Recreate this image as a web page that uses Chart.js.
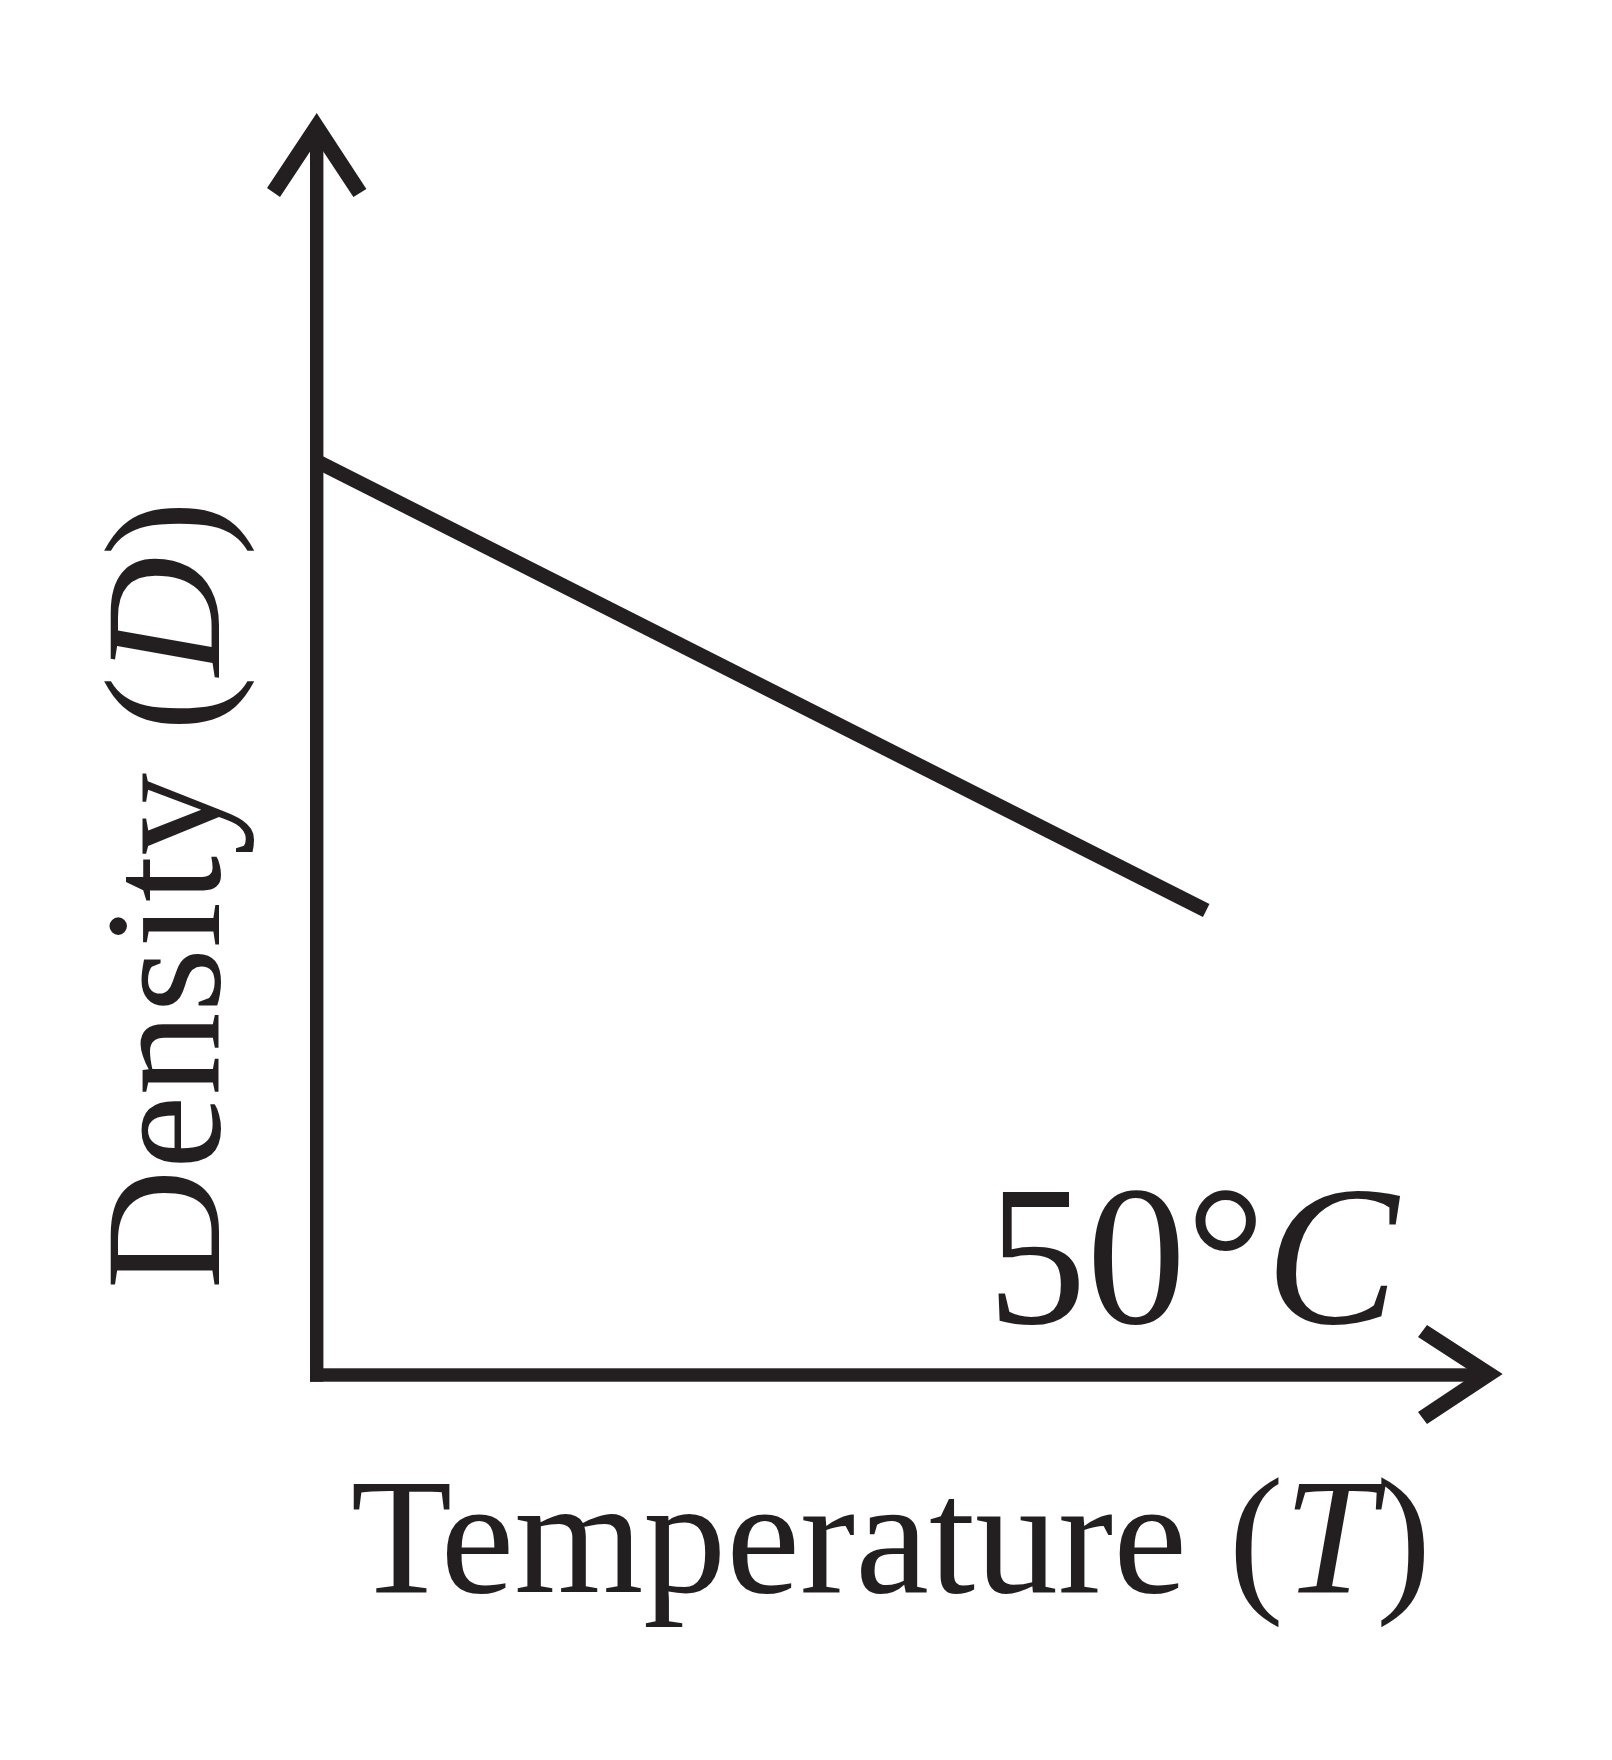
<!DOCTYPE html>
<html>
<head>
<meta charset="utf-8">
<script src="https://cdn.jsdelivr.net/npm/chart.js@4/dist/chart.umd.min.js"></script>
<style>
html,body{margin:0;padding:0;background:#fff;}
#wrap{width:1612px;height:1760px;position:relative;}
</style>
</head>
<body>
<div id="wrap"><canvas id="c" width="1612" height="1760"></canvas></div>
<script>
// Data (arbitrary units: axes span 0..100)
const temperature = [0, 75];
const density = [72.4, 36.8];
const xLabelParts = [["Temperature (", false], ["T", true], [")", false]];
const yLabelParts = [["Density (", false], ["D", true], [")", false]];
const markParts = [["50°", false], ["C", true]];

const INK = '#231f20';
const FONT = '"Liberation Serif", "Times New Roman", serif';

function drawParts(ctx, parts, size, x, y, align) {
  let total = 0;
  const widths = parts.map(([t, it]) => {
    ctx.font = (it ? 'italic ' : '') + size + 'px ' + FONT;
    const w = ctx.measureText(t).width; total += w; return w;
  });
  let cx = align === 'center' ? x - total / 2 : x;
  ctx.textAlign = 'left';
  ctx.textBaseline = 'alphabetic';
  parts.forEach(([t, it], i) => {
    ctx.font = (it ? 'italic ' : '') + size + 'px ' + FONT;
    ctx.fillText(t, cx, y);
    cx += widths[i];
  });
}

const axesPlugin = {
  id: 'axesArrows',
  afterDatasetsDraw(chart) {
    const ctx = chart.ctx;
    const xs = chart.scales.x, ys = chart.scales.y;
    const ox = xs.getPixelForValue(0), oy = ys.getPixelForValue(0);
    const tipY = ys.getPixelForValue(100), tipX = xs.getPixelForValue(100);
    const hw = 6.7;
    ctx.save();
    ctx.fillStyle = INK;
    // y axis shaft
    ctx.fillRect(ox - hw, tipY + 25, 2 * hw, oy + hw - (tipY + 25));
    // x axis shaft
    ctx.fillRect(ox - hw, oy - hw, tipX - 20 - (ox - hw), 2 * hw);
    // up arrow head
    ctx.beginPath();
    ctx.moveTo(ox, tipY);
    ctx.lineTo(ox - 49.7, tipY + 75);
    ctx.lineTo(ox - 36.7, tipY + 84);
    ctx.lineTo(ox, tipY + 28.6);
    ctx.lineTo(ox + 36.7, tipY + 84);
    ctx.lineTo(ox + 49.7, tipY + 76);
    ctx.closePath();
    ctx.fill();
    // right arrow head
    ctx.beginPath();
    ctx.moveTo(tipX, oy - 1);
    ctx.lineTo(tipX - 75.7, oy - 50);
    ctx.lineTo(tipX - 84.7, oy - 38);
    ctx.lineTo(tipX - 27.7, oy - 1);
    ctx.lineTo(tipX - 84.7, oy + 37);
    ctx.lineTo(tipX - 75.7, oy + 49);
    ctx.closePath();
    ctx.fill();

    // labels
    drawParts(ctx, markParts, 199, 987, 1323, 'left');
    drawParts(ctx, xLabelParts, 166, 891, 1592, 'center');
    ctx.translate(219, 895);
    ctx.rotate(-Math.PI / 2);
    drawParts(ctx, yLabelParts, 166, 0, 0, 'center');
    ctx.restore();
  }
};

new Chart(document.getElementById('c'), {
  type: 'line',
  data: {
    datasets: [{
      data: temperature.map((t, i) => ({ x: t, y: density[i] })),
      borderColor: INK,
      borderWidth: 14.5,
      borderCapStyle: 'butt',
      pointRadius: 0,
      tension: 0,
      fill: false
    }]
  },
  options: {
    responsive: false,
    animation: false,
    devicePixelRatio: 1,
    layout: { padding: { left: 316.7, top: 113, right: 109.3, bottom: 385 } },
    plugins: { legend: { display: false }, tooltip: { enabled: false } },
    scales: {
      x: { type: 'linear', min: 0, max: 100, display: false },
      y: { type: 'linear', min: 0, max: 100, display: false }
    }
  },
  plugins: [axesPlugin]
});
</script>
</body>
</html>
